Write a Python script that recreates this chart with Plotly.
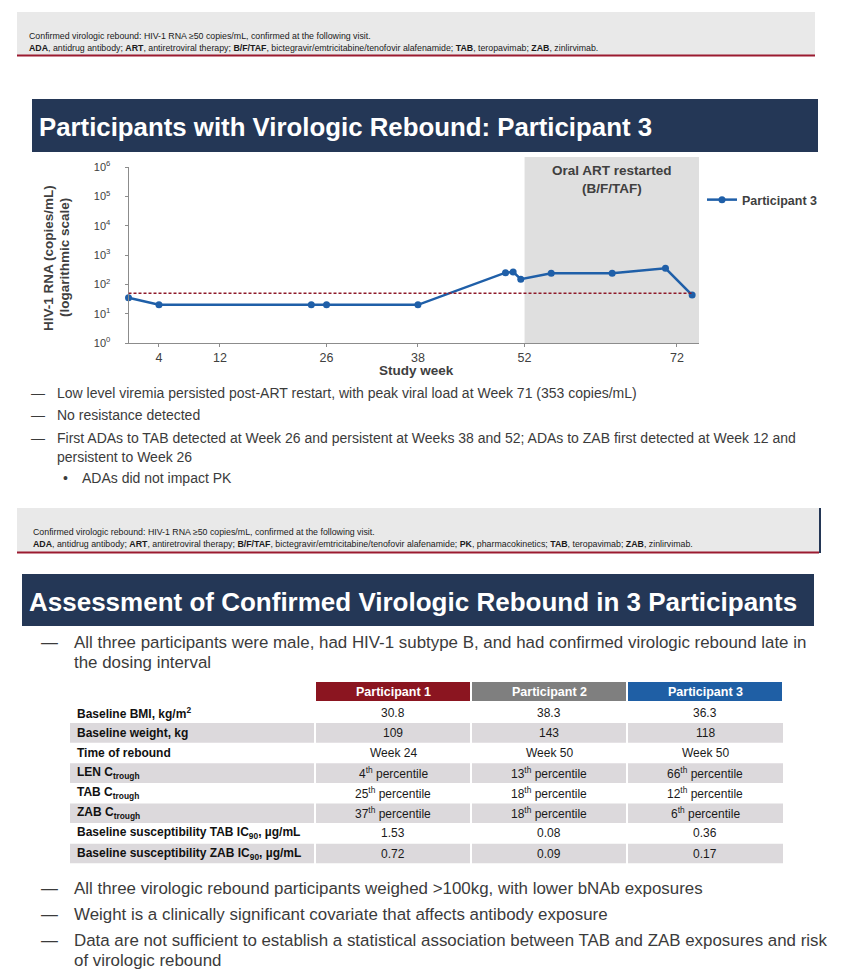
import plotly.graph_objects as go

# ---------------- data ----------------
weeks = [0, 4, 24, 26, 38, 49.5, 50.5, 51.5, 55.5, 63.5, 70.5, 74]
rna = [35, 20, 20, 20, 20, 250, 265, 150, 240, 240, 353, 43]
threshold = 50
art_restart_week = 52
x_end_week = 74.9
x_ticks = [4, 12, 26, 38, 52, 72]
y_tick_vals = [1, 10, 100, 1000, 10000, 100000, 1000000]
y_tick_text = ["10<sup>%d</sup>" % i for i in range(7)]

row_labels = ["Baseline BMI, kg/m<sup>2</sup>", "Baseline weight, kg", "Time of rebound",
              "LEN C<sub>trough</sub>", "TAB C<sub>trough</sub>", "ZAB C<sub>trough</sub>",
              "Baseline susceptibility TAB IC<sub>90</sub>, µg/mL",
              "Baseline susceptibility ZAB IC<sub>90</sub>, µg/mL"]
participants = ["Participant 1", "Participant 2", "Participant 3"]
p1_vals = ["30.8", "109", "Week 24", "4<sup>th</sup> percentile", "25<sup>th</sup> percentile",
           "37<sup>th</sup> percentile", "1.53", "0.72"]
p2_vals = ["38.3", "143", "Week 50", "13<sup>th</sup> percentile", "18<sup>th</sup> percentile",
           "18<sup>th</sup> percentile", "0.08", "0.09"]
p3_vals = ["36.3", "118", "Week 50", "66<sup>th</sup> percentile", "12<sup>th</sup> percentile",
           "6<sup>th</sup> percentile", "0.36", "0.17"]
header_colors = ["#8B1520", "#7F7F7F", "#1F5FA5"]

box1_lines = ["Confirmed virologic rebound: HIV-1 RNA ≥50 copies/mL, confirmed at the following visit.",
              "<b>ADA</b>, antidrug antibody; <b>ART</b>, antiretroviral therapy; <b>B/F/TAF</b>, "
              "bictegravir/emtricitabine/tenofovir alafenamide; <b>TAB</b>, teropavimab; <b>ZAB</b>, zinlirvimab."]
box2_lines = ["Confirmed virologic rebound: HIV-1 RNA ≥50 copies/mL, confirmed at the following visit.",
              "<b>ADA</b>, antidrug antibody; <b>ART</b>, antiretroviral therapy; <b>B/F/TAF</b>, "
              "bictegravir/emtricitabine/tenofovir alafenamide; <b>PK</b>, pharmacokinetics; "
              "<b>TAB</b>, teropavimab; <b>ZAB</b>, zinlirvimab."]
title1 = "Participants with Virologic Rebound: Participant 3"
title2 = "Assessment of Confirmed Virologic Rebound in 3 Participants"
bullets1 = ["Low level viremia persisted post-ART restart, with peak viral load at Week 71 (353 copies/mL)",
            "No resistance detected",
            "First ADAs to TAB detected at Week 26 and persistent at Weeks 38 and 52; ADAs to ZAB first detected at Week 12 and",
            "persistent to Week 26"]
subbullet1 = "ADAs did not impact PK"
bullets2_top = ["All three participants were male, had HIV-1 subtype B, and had confirmed virologic rebound late in",
                "the dosing interval"]
bullets2_bottom = ["All three virologic rebound participants weighed >100kg, with lower bNAb exposures",
                   "Weight is a clinically significant covariate that affects antibody exposure",
                   "Data are not sufficient to establish a statistical association between TAB and ZAB exposures and risk",
                   "of virologic rebound"]

# ---------------- layout helpers ----------------
W, H = 844, 973
FONT = "Liberation Sans, Arial, sans-serif"
TXT = "#3b3b3b"
NAVY = "#243756"
RED = "#8E1A2A"
BLUE = "#1F5FA8"


def px(x):
    return x / W


def py(y):
    return 1 - y / H


shapes = []
annotations = []


def rect(x0, y0, x1, y1, fill, layer="below"):
    shapes.append(dict(type="rect", xref="paper", yref="paper", x0=px(x0), x1=px(x1),
                       y0=py(y1), y1=py(y0), fillcolor=fill, line=dict(width=0), layer=layer))


def hline(x0, x1, y, color, width):
    shapes.append(dict(type="line", xref="paper", yref="paper", x0=px(x0), x1=px(x1),
                       y0=py(y), y1=py(y), line=dict(color=color, width=width)))


def vline(x, y0, y1, color, width):
    shapes.append(dict(type="line", xref="paper", yref="paper", x0=px(x), x1=px(x),
                       y0=py(y0), y1=py(y1), line=dict(color=color, width=width)))


def text(x, y, s, size, color=TXT, bold=False, anchor="left"):
    annotations.append(dict(xref="paper", yref="paper", x=px(x), y=py(y), text=("<b>%s</b>" % s) if bold else s,
                            showarrow=False, xanchor=anchor, yanchor="middle",
                            font=dict(family=FONT, size=size, color=color)))


# footnote box 1
rect(17, 12, 815, 55, "#E9E9E9")
hline(17, 815, 55.5, "#9B1B30", 2.2)
text(27, 36.5, box1_lines[0], 8.8, "#1a1a1a")
text(27, 47.5, box1_lines[1], 8.8, "#1a1a1a")

# title banner 1
rect(32, 99, 818, 152, NAVY)
text(37, 126.5, title1, 25.8, "white", bold=True)

# chart text
annotations.append(dict(xref="x", yref="paper", x=(art_restart_week + x_end_week) / 2, y=py(179),
                        text="<b>Oral ART restarted<br>(B/F/TAF)</b>", showarrow=False,
                        xanchor="center", yanchor="middle",
                        font=dict(family=FONT, size=13.5, color="#404040")))
annotations.append(dict(xref="paper", yref="y", x=px(703), y=threshold, text="<b>50 copies/mL</b>",
                        showarrow=False, xanchor="left", yanchor="middle",
                        font=dict(family=FONT, size=10.5, color=RED)))
annotations.append(dict(xref="paper", yref="paper", x=px(48), y=py(258), text="<b>HIV-1 RNA (copies/mL)</b>",
                        textangle=-90, showarrow=False, xanchor="center", yanchor="middle",
                        font=dict(family=FONT, size=13.5, color="#404040")))
annotations.append(dict(xref="paper", yref="paper", x=px(64), y=py(258), text="<b>(logarithmic scale)</b>",
                        textangle=-90, showarrow=False, xanchor="center", yanchor="middle",
                        font=dict(family=FONT, size=13.5, color="#404040")))
text(416, 370, "Study week", 13.5, "#404040", bold=True, anchor="center")

# ART shading (data x coordinates)
shapes.append(dict(type="rect", xref="x", yref="paper", x0=art_restart_week, x1=x_end_week,
                   y0=py(343), y1=py(157), fillcolor="#DFDFDF", line=dict(width=0), layer="below"))
# 50 copies/mL threshold line
shapes.append(dict(type="line", xref="x", yref="y", x0=0, x1=weeks[-1], y0=threshold, y1=threshold,
                   line=dict(color=RED, width=1.5, dash="3px,2px")))

# bullets section 1
b1_y = [393, 415, 438, 457]
for i, s in enumerate(bullets1):
    if i != 3:
        text(29, b1_y[i], "—", 14, TXT)
    text(55, b1_y[i], s, 14, TXT)
text(61, 478, "•", 14, TXT)
text(80, 478, subbullet1, 14, TXT)

# footnote box 2
rect(17, 508, 819, 552, "#E9E9E9")
hline(17, 819, 552.5, "#9B1B30", 2.2)
vline(820, 508, 553, NAVY, 2)
text(31, 531.5, box2_lines[0], 8.8, "#1a1a1a")
text(31, 543.5, box2_lines[1], 8.8, "#1a1a1a")

# title banner 2
rect(22, 574, 814, 626, NAVY)
text(27, 601.5, title2, 26, "white", bold=True)

# bullets section 2
text(39, 642, "—", 16.9, TXT)
text(72, 642, bullets2_top[0], 16.9, TXT)
text(72, 662, bullets2_top[1], 16.9, TXT)
b2_y = [888, 914, 940, 960]
for i, s in enumerate(bullets2_bottom):
    if i != 3:
        text(39, b2_y[i], "—", 16.9, TXT)
    text(72, b2_y[i], s, 16.9, TXT)

# ---------------- table (shapes + text) ----------------
col_edges = [70, 315, 471, 627, 783]
gap = 1
hdr_top, hdr_bot = 682, 701
for j, p in enumerate(participants):
    x0, x1 = col_edges[j + 1] + gap, col_edges[j + 2] - gap
    rect(x0, hdr_top, x1, hdr_bot, header_colors[j])
    text((x0 + x1) / 2, (hdr_top + hdr_bot) / 2 + 0.5, p, 12.5, "white", bold=True, anchor="center")

row_pitch = 20.1
row_top0 = 703
columns = [p1_vals, p2_vals, p3_vals]
for i, lab in enumerate(row_labels):
    top = row_top0 + i * row_pitch
    bot = top + row_pitch - 0.5
    cy = (top + bot) / 2
    if i % 2 == 1:
        for j in range(4):
            x0 = col_edges[j] + (0 if j == 0 else gap)
            x1 = col_edges[j + 1] - (gap if j < 3 else 0)
            rect(x0, top, x1, bot, "#DCD9DC")
    text(75, cy, lab, 12, "#111111", bold=True)
    for j, col in enumerate(columns):
        text((col_edges[j + 1] + col_edges[j + 2]) / 2, cy, col[i], 12, "#1a1a1a", anchor="center")

# ---------------- traces ----------------
fig = go.Figure()
fig.add_trace(go.Scatter(x=weeks, y=rna, mode="lines+markers", name="Participant 3",
                         line=dict(color=BLUE, width=2.5), marker=dict(color=BLUE, size=7),
                         cliponaxis=False))

fig.update_layout(
    width=W, height=H, margin=dict(l=0, r=0, t=0, b=0, autoexpand=False),
    paper_bgcolor="white", plot_bgcolor="rgba(0,0,0,0)",
    font=dict(family=FONT, color="#404040"),
    shapes=shapes, annotations=annotations,
    showlegend=True,
    legend=dict(x=px(702), y=py(200), xanchor="left", yanchor="middle", bgcolor="rgba(0,0,0,0)",
                font=dict(family=FONT, size=12.5, color="#404040", weight="bold"), itemwidth=30),
    xaxis=dict(domain=[px(128.5), px(699)], range=[0, x_end_week], tickvals=x_ticks,
               showline=True, linecolor="#8c8c8c", linewidth=1, ticks="outside", ticklen=3,
               tickcolor="#8c8c8c", showgrid=False, zeroline=False, automargin=False,
               tickfont=dict(family=FONT, size=12.5, color="#404040")),
    yaxis=dict(domain=[py(343), py(167)], type="log", range=[0, 6], tickvals=y_tick_vals,
               ticktext=y_tick_text, showline=True, linecolor="#8c8c8c", linewidth=1,
               ticks="outside", ticklen=3, tickcolor="#8c8c8c", showgrid=False, zeroline=False,
               ticklabelstandoff=12,
               automargin=False, tickfont=dict(family=FONT, size=11, color="#404040")),
)

fig.write_html("out.html", config={"displayModeBar": False},
               post_script="document.body.style.margin='0px';")
